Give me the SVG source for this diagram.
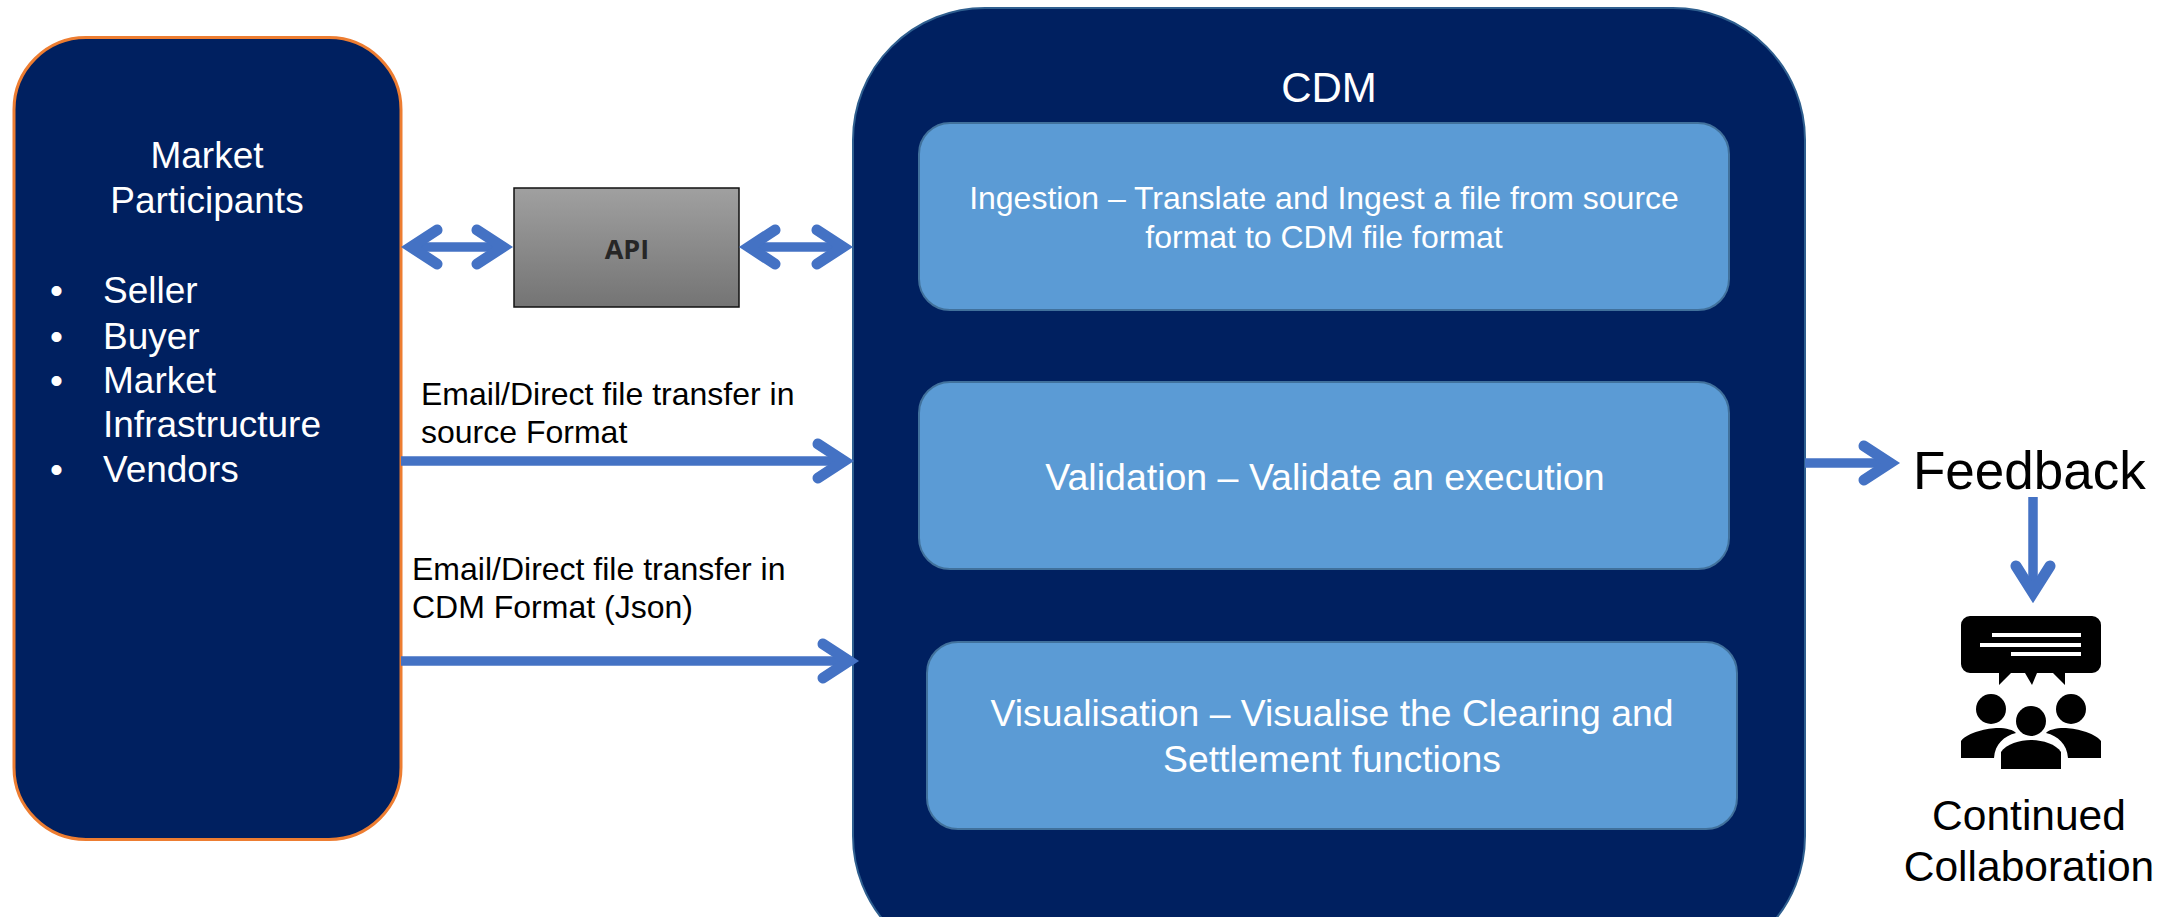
<svg xmlns="http://www.w3.org/2000/svg" width="2169" height="917" viewBox="0 0 2169 917">
<style>
text{font-family:"Liberation Sans",Arial,sans-serif}
.w{fill:#fff}.k{fill:#000}.m{text-anchor:middle}
.inner{fill:#5b9bd5;stroke:#41719c;stroke-width:2}
.c{fill:none;stroke:#4472c4;stroke-width:9.5}
.h{fill:none;stroke:#4472c4;stroke-width:11;stroke-linecap:round;stroke-linejoin:miter;stroke-miterlimit:6}
</style>
<defs>
<linearGradient id="g" x1="0" y1="0" x2="0" y2="1"><stop offset="0" stop-color="#a0a0a0"/><stop offset="1" stop-color="#747474"/></linearGradient>
</defs>
<rect width="2169" height="917" fill="#fff"/>
<g id="market"><rect x="14" y="37.500" width="387" height="802" rx="72" fill="#002060" stroke="#ed7d31" stroke-width="3"/>
<text class="w m" font-size="37" x="207" y="168">Market</text>
<text class="w m" font-size="37" x="207" y="213">Participants</text>
<g class="w" font-size="37"><text x="50" y="303">•</text><text x="103" y="303">Seller</text>
<text x="50" y="349">•</text><text x="103" y="349">Buyer</text>
<text x="50" y="393">•</text><text x="103" y="393">Market</text>
<text x="103" y="437">Infrastructure</text>
<text x="50" y="482">•</text><text x="103" y="482">Vendors</text></g></g>
<g id="cdm"><rect x="853" y="8" width="952" height="960" rx="132" fill="#002060" stroke="#2f5f8f" stroke-width="2"/>
<text class="w m" font-size="42" x="1329" y="102">CDM</text></g>
<g id="ingestion"><rect class="inner" x="919" y="123" width="810" height="187" rx="31"/>
<text class="w m" font-size="32" x="1324" y="209">Ingestion – Translate and Ingest a file from source</text>
<text class="w m" font-size="32" x="1324" y="248">format to CDM file format</text></g>
<g id="validation"><rect class="inner" x="919" y="382" width="810" height="187" rx="31"/>
<text class="w m" font-size="37.500" x="1325" y="490">Validation – Validate an execution</text></g>
<g id="visualisation"><rect class="inner" x="927" y="642" width="810" height="187" rx="31"/>
<text class="w m" font-size="37.300" x="1332" y="726">Visualisation – Visualise the Clearing and</text>
<text class="w m" font-size="37.300" x="1332" y="772">Settlement functions</text></g>
<g id="api"><rect x="514" y="188" width="225" height="119" fill="url(#g)" stroke="#111" stroke-width="1.500"/>
<text class="m" font-size="27" font-weight="700" style="font-family:'Open Sans',sans-serif" fill="#262626" x="627" y="259">API</text></g>
<g id="connectors">
<path class="c" d="M412 247H503"/><path class="h" d="M437 230L411 247L437 264M477 230L503 247L477 264"/>
<path class="c" d="M750 247H843"/><path class="h" d="M775 230L749 247L775 264M817 230L843 247L817 264"/>
<path class="c" d="M401 461H843"/><path class="h" d="M818 444L844 461L818 478"/>
<path class="c" d="M401 661H848"/><path class="h" d="M823 644L849 661L823 678"/>
<path class="c" d="M1805 463H1889"/><path class="h" d="M1864 446L1890 463L1864 480"/>
<path class="c" d="M2033 497V592"/><path class="h" d="M2016 566L2033 593L2050 566"/>
</g>
<g id="feedback"><text class="k" font-size="53" x="1913" y="489">Feedback</text></g>
<g id="collaboration">
<path d="M1970 616H2092a9 9 0 0 1 9 9V664a9 9 0 0 1 -9 9H2065V685L2053 673H2037L2032 685L2025 673H2011L1999 685V673H1970a9 9 0 0 1 -9-9V625a9 9 0 0 1 9-9Z" fill="#000"/>
<path d="M1992 635H2081M1980 645H2081M2011 654H2081" stroke="#fff" stroke-width="4" fill="none"/>
<circle cx="1991" cy="709" r="15"/><circle cx="2071" cy="709" r="15"/><circle cx="2031" cy="721" r="15"/>
<path d="M1961 758V741C1968 732 1988 728 1998 728C2006 728 2014 730 2016 733C2004 736 1995 744 1994 758Z"/>
<path d="M2101 758V741C2094 732 2074 728 2064 728C2056 728 2048 730 2046 733C2058 736 2067 744 2068 758Z"/>
<path d="M2001 769V752C2006 744 2020 740 2031 740C2042 740 2056 744 2061 752V769Z"/>
<text class="k m" font-size="42.500" x="2029" y="830">Continued</text>
<text class="k m" font-size="42.500" x="2029" y="881">Collaboration</text></g>
<g id="labels" class="k" font-size="32">
<text x="421" y="405">Email/Direct file transfer in</text><text x="421" y="443">source Format</text>
<text x="412" y="580">Email/Direct file transfer in</text><text x="412" y="618">CDM Format (Json)</text></g>
</svg>
